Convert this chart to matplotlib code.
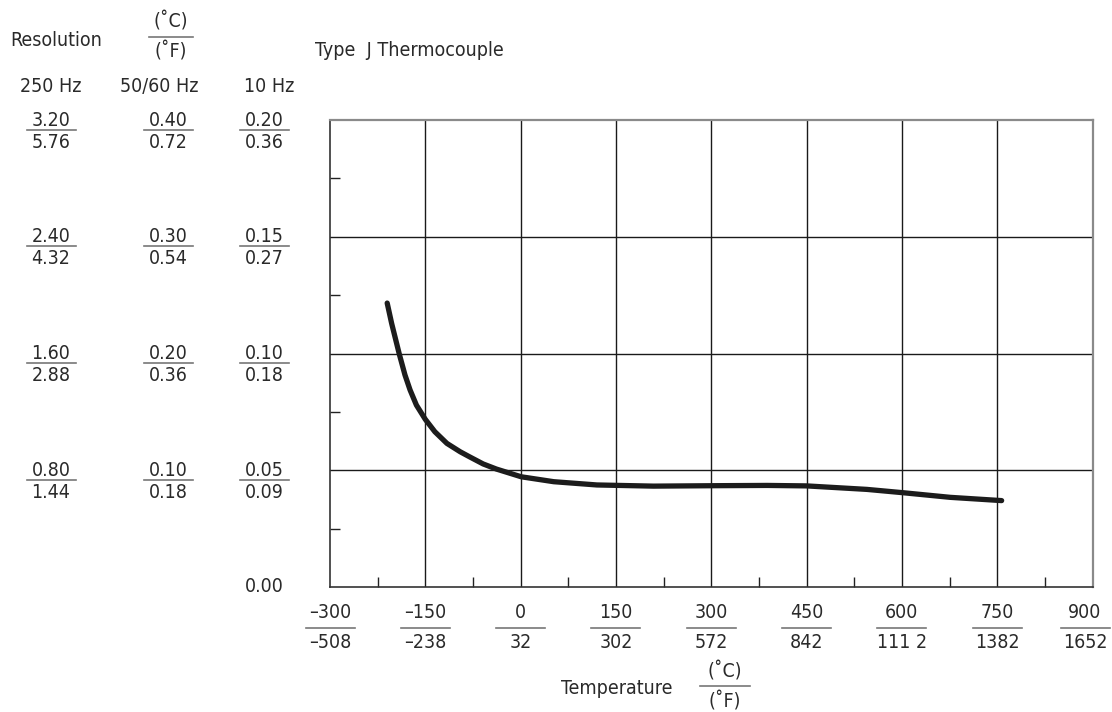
#Type J 热电偶分辨率曲线
import matplotlib
matplotlib.use('Agg')
import matplotlib.pyplot as plt
import matplotlib.transforms as mtransforms
from matplotlib import font_manager
from matplotlib.lines import Line2D

# 曲线数据 (温度 °C, 10 Hz 下的分辨率 °C)
temp_c = [-210, -203, -191, -182, -174, -164, -150, -135, -116, -95, -80, -59, -38, 1,
          52, 120, 209, 314, 388, 450, 545, 601, 676, 757]
res_10hz = [0.1216, 0.1129, 0.0998, 0.0908, 0.0844, 0.0779, 0.0718, 0.0665, 0.0615, 0.0579,
            0.0557, 0.0527, 0.0505, 0.0472, 0.0451, 0.0437, 0.0432, 0.0434, 0.0435, 0.0433,
            0.0418, 0.0404, 0.0384, 0.0370]

# x 轴刻度
x_ticks_c = [-300, -150, 0, 150, 300, 450, 600, 750, 900]
x_labels_c = ['–300', '–150', '0', '150', '300', '450', '600', '750', '900']
x_labels_f = ['–508', '–238', '32', '302', '572', '842', '111 2', '1382', '1652']

# y 轴刻度 (三列: 250 Hz, 50/60 Hz, 10 Hz)
y_ticks = [0.20, 0.15, 0.10, 0.05]
col_250_c = ['3.20', '2.40', '1.60', '0.80']
col_250_f = ['5.76', '4.32', '2.88', '1.44']
col_5060_c = ['0.40', '0.30', '0.20', '0.10']
col_5060_f = ['0.72', '0.54', '0.36', '0.18']
col_10_c = ['0.20', '0.15', '0.10', '0.05']
col_10_f = ['0.36', '0.27', '0.18', '0.09']

# 选一个窄体字体
names = {f.name for f in font_manager.fontManager.ttflist}
stretch = 'normal'
if 'Liberation Sans Narrow' in names:
    fam = 'Liberation Sans Narrow'
elif any(f.name == 'DejaVu Sans' and f.stretch == 'condensed' for f in font_manager.fontManager.ttflist):
    fam = 'DejaVu Sans'
    stretch = 'condensed'
else:
    fam = 'Roboto' if 'Roboto' in names else 'DejaVu Sans'
plt.rcParams['font.family'] = [fam, 'DejaVu Sans']
plt.rcParams['font.stretch'] = stretch

W, H = 1112, 712
fig = plt.figure(figsize=(W / 100, H / 100), dpi=100)
L, R, T, B = 330, 1092.5, 120, 587
ax = fig.add_axes([L / W, 1 - B / H, (R - L) / W, (B - T) / H])

txt = '#2a2a2a'
fs = 14

ax.plot(temp_c, res_10hz, color='#1c1c1c', lw=3.8, solid_capstyle='round', solid_joinstyle='round')
ax.set_xlim(-300, 900)
ax.set_ylim(0, 0.20)

ax.set_xticks(x_ticks_c[1:-1])
ax.set_yticks(y_ticks[1:])
ax.set_xticks([-225 + 150 * i for i in range(8)], minor=True)
ax.set_yticks([0.025, 0.075, 0.125, 0.175], minor=True)
ax.tick_params(which='major', length=0, labelbottom=False, labelleft=False)
ax.tick_params(which='minor', direction='in', length=7, width=1, color='#222')
ax.grid(True, which='major', color='#1a1a1a', lw=1)
for s in ['left', 'bottom']:
    ax.spines[s].set_color('#333')
    ax.spines[s].set_linewidth(1.2)
for s in ['top', 'right']:
    ax.spines[s].set_color('#8a8a8a')
    ax.spines[s].set_linewidth(1.6)

# 像素坐标 (左上原点) 转换
pix = mtransforms.Affine2D().scale(1 / W, -1 / H).translate(0, 1) + fig.transFigure
ytr = mtransforms.blended_transform_factory(pix, ax.transData)

def frac_y(x, v, top, bot):
    #y轴上的分数标签
    down = lambda d: ytr + mtransforms.ScaledTranslation(0, -d / 100, fig.dpi_scale_trans)
    fig.text(x, v, top, transform=ytr, ha='center', va='center', fontsize=fs, color=txt)
    fig.text(x, v, bot, transform=down(22), ha='center', va='center', fontsize=fs, color=txt)
    fig.add_artist(Line2D([x - 24.5, x + 24.5], [v, v], transform=down(9.5), color='#777', lw=1.2))

def frac_pix(x, y, top, bot, half=24.5, dy=15):
    #像素坐标下的分数标签
    fig.text(x, y - dy, top, transform=pix, ha='center', va='center', fontsize=fs, color=txt)
    fig.text(x, y + dy, bot, transform=pix, ha='center', va='center', fontsize=fs, color=txt)
    fig.add_artist(Line2D([x - half, x + half], [y, y], transform=pix, color='#777', lw=1.2))

# y 轴三列标签
for cx, tops, bots in [(51, col_250_c, col_250_f), (168, col_5060_c, col_5060_f), (264, col_10_c, col_10_f)]:
    for v, a, b in zip(y_ticks, tops, bots):
        frac_y(cx, v, a, b)
fig.text(264, 0.0, '0.00', transform=ytr, ha='center', va='center', fontsize=fs, color=txt)

# x 轴标签
fig.canvas.draw()
for v, a, b in zip(x_ticks_c, x_labels_c, x_labels_f):
    xp = ax.transData.transform((v, 0))[0]
    xp = min(xp, W - 27)
    frac_pix(xp, 628, a, b)

# 表头
fig.text(56, 40, 'Resolution', transform=pix, ha='center', va='center', fontsize=fs, color=txt)
frac_pix(171, 37, '(˚C)', '(˚F)', half=22)
fig.text(51, 87, '250 Hz', transform=pix, ha='center', va='center', fontsize=fs, color=txt)
fig.text(159, 87, '50/60 Hz', transform=pix, ha='center', va='center', fontsize=fs, color=txt)
fig.text(269, 87, '10 Hz', transform=pix, ha='center', va='center', fontsize=fs, color=txt)
fig.text(315, 50, 'Type  J Thermocouple', transform=pix, ha='left', va='center', fontsize=fs, color=txt)

# x 轴标题
fig.text(617, 688, 'Temperature', transform=pix, ha='center', va='center', fontsize=fs, color=txt)
frac_pix(725, 686, '(˚C)', '(˚F)', half=25)

fig.savefig('out.png', dpi=100)
